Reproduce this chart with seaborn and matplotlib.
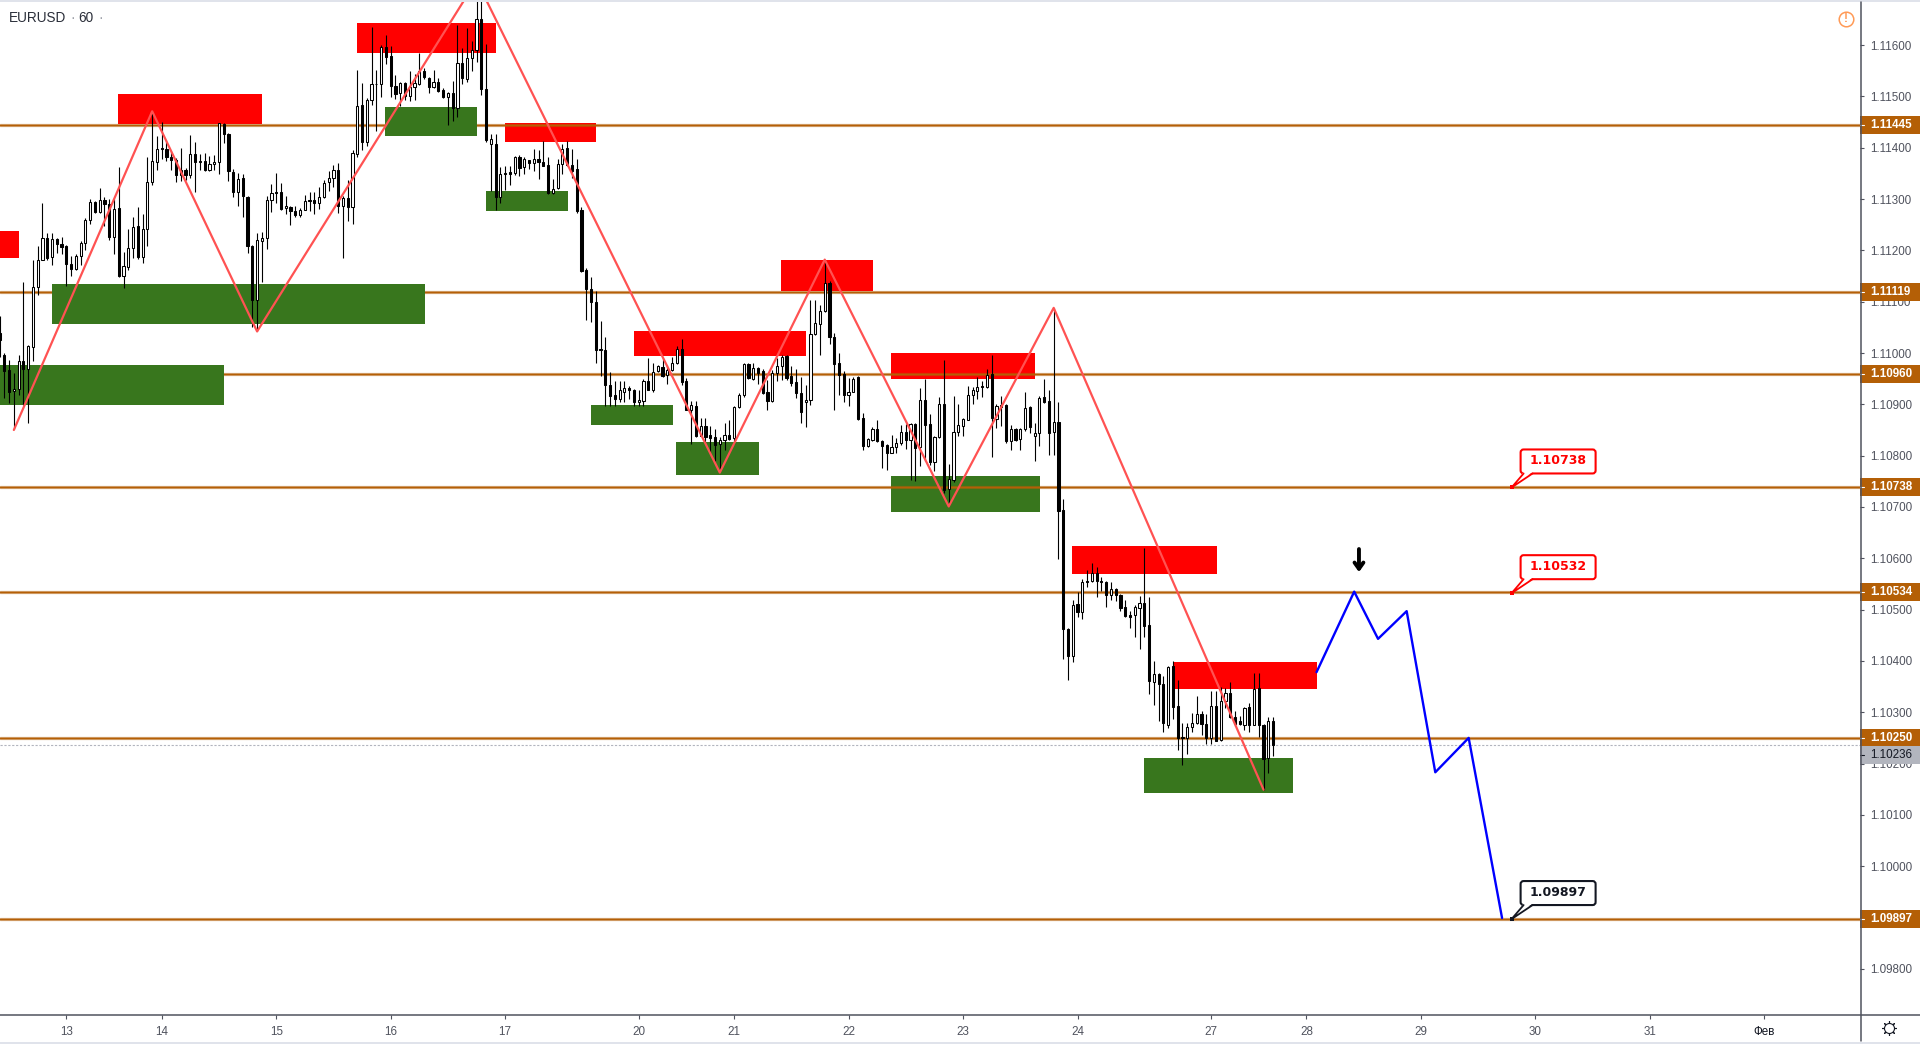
# EURUSD 60 min chart with zones, swings and projected path
import numpy as np
import matplotlib
matplotlib.use('Agg')
import matplotlib.pyplot as plt
import seaborn as sns
from matplotlib.lines import Line2D
from matplotlib.patches import FancyBboxPatch, FancyArrowPatch, Polygon, Rectangle
from matplotlib.transforms import IdentityTransform

# -----------------------------
# Data (prices in 1e-5 units, x in hourly candle numbers)
# -----------------------------
opens = [
    111039,110997,110966,110926,110930,110984,110969,111012,111129,111181,
    111224,111187,111222,111213,111209,111174,111164,111190,111214,111260,
    111294,111274,111298,111291,111227,111283,111151,111167,111205,111247,
    111188,111242,111333,111372,111400,111398,111382,111377,111346,111357,
    111346,111387,111374,111374,111356,111368,111372,111447,111427,111353,
    111313,111342,111304,111209,111103,111218,111224,111298,111314,111314,
    111282,111285,111277,111268,111279,111298,111298,111292,111304,111333,
    111341,111357,111286,111302,111284,111387,111484,111411,111494,111525,
    111525,111597,111578,111521,111506,111526,111500,111518,111525,111550,
    111536,111518,111528,111512,111499,111507,111477,111565,111534,111575,
    111590,111651,111515,111408,111407,111304,111350,111353,111351,111381,
    111363,111377,111371,111379,111373,111366,111311,111322,111368,111400,
    111366,111358,111278,111161,111125,111099,111008,111006,110938,110918,
    110911,110925,110932,110928,110904,110907,110946,110928,110964,110973,
    110958,110966,110980,111008,110946,110889,110897,110839,110858,110841,
    110837,110823,110830,110841,110834,110895,110919,110979,110950,110971,
    110965,110924,110906,110961,110974,110995,110956,110943,110922,110904,
    110908,111038,111056,111082,111137,111032,110980,110960,110918,110924,
    110953,110873,110818,110831,110852,110828,110821,110806,110816,110824,
    110846,110830,110861,110817,110909,110861,110788,110837,110900,110735,
    110753,110846,110857,110870,110918,110926,110935,110933,110960,110872,
    110898,110898,110828,110852,110833,110851,110895,110838,110844,110915,
    110906,110846,110866,110694,110462,110410,110511,110495,110556,110555,
    110571,110556,110553,110528,110540,110529,110505,110490,110489,110504,
    110512,110470,110358,110375,110356,110276,110390,110312,110251,110250,
    110272,110280,110297,110277,110249,110312,110245,110321,110337,110290,
    110283,110276,110310,110276,110347,110275,110210,110282]
highs = [
    111073,111000,110987,110962,110997,111138,111016,111182,111208,111292,
    111234,111234,111224,111226,111211,111189,111192,111218,111263,111301,
    111297,111322,111304,111301,111301,111363,111197,111242,111265,111285,
    111270,111382,111471,111422,111450,111416,111393,111380,111400,111361,
    111424,111411,111387,111389,111383,111385,111448,111448,111429,111359,
    111351,111348,111305,111211,111234,111235,111305,111330,111351,111332,
    111305,111286,111286,111283,111307,111313,111314,111323,111338,111354,
    111367,111370,111305,111338,111396,111552,111526,111496,111636,111551,
    111601,111619,111599,111542,111528,111528,111549,111543,111584,111556,
    111538,111552,111536,111517,111508,111530,111639,111595,111634,111608,
    111726,111700,111603,111426,111426,111363,111364,111364,111384,111385,
    111382,111377,111397,111395,111413,111381,111340,111379,111407,111413,
    111398,111379,111285,111166,111148,111121,111063,111031,110963,110945,
    110945,110946,110935,110930,110928,110949,110990,110980,110977,110990,
    110977,110993,111014,111027,110951,110907,110906,110873,110873,110857,
    110852,110837,110863,110870,110897,110923,110980,110980,110980,110972,
    110969,110948,110967,110990,110997,110997,110974,110969,110953,110938,
    111103,111103,111093,111182,111141,111039,111000,110965,110952,110954,
    110955,110883,110834,110856,110870,110830,110823,110841,110834,110859,
    110861,110863,110863,110931,110950,110882,110839,110914,110986,110783,
    110916,110900,110874,110935,110934,110954,110945,110969,110997,110900,
    110916,110900,110859,110854,110854,110924,110896,110864,110916,110950,
    110928,111088,110905,110716,110464,110519,110535,110559,110577,110590,
    110583,110563,110555,110553,110542,110531,110519,110498,110508,110527,
    110620,110524,110399,110376,110370,110390,110400,110363,110280,110280,
    110298,110332,110303,110297,110342,110342,110349,110347,110359,110303,
    110292,110310,110318,110376,110376,110277,110291,110290]
lows = [
    110993,110912,110903,110851,110919,110899,110863,110984,111114,111181,
    111182,111172,111194,111192,111130,111151,111161,111172,111200,111252,
    111272,111273,111248,111221,111192,111148,111126,111162,111185,111184,
    111175,111209,111327,111356,111379,111375,111357,111333,111336,111338,
    111341,111313,111356,111354,111355,111357,111348,111409,111335,111304,
    111286,111265,111195,111051,111042,111138,111203,111274,111292,111279,
    111271,111249,111266,111265,111278,111276,111270,111281,111302,111316,
    111324,111273,111185,111257,111252,111382,111396,111403,111484,111432,
    111499,111564,111499,111495,111481,111494,111491,111494,111523,111533,
    111507,111517,111508,111497,111445,111452,111460,111525,111528,111549,
    111567,111502,111411,111315,111279,111292,111317,111327,111347,111345,
    111348,111358,111355,111340,111364,111309,111309,111319,111348,111364,
    111342,111273,111157,111064,111060,110980,110956,110897,110897,110897,
    110904,110904,110911,110897,110897,110897,110927,110925,110963,110953,
    110940,110964,110979,110938,110888,110823,110837,110839,110826,110805,
    110789,110772,110811,110831,110823,110893,110915,110949,110948,110940,
    110921,110888,110904,110945,110948,110948,110935,110912,110863,110855,
    110899,111036,110997,111080,111017,110889,110919,110904,110896,110924,
    110870,110811,110816,110828,110826,110776,110772,110805,110805,110820,
    110812,110753,110750,110779,110789,110781,110771,110835,110727,110701,
    110748,110839,110839,110869,110900,110911,110914,110932,110798,110853,
    110857,110824,110811,110828,110811,110849,110844,110789,110818,110903,
    110801,110801,110598,110403,110362,110397,110485,110481,110545,110554,
    110524,110537,110506,110518,110516,110498,110486,110465,110447,110424,
    110446,110336,110314,110282,110262,110270,110287,110226,110198,110219,
    110262,110278,110256,110238,110238,110243,110244,110308,110288,110274,
    110275,110265,110262,110275,110252,110148,110182,110215]
closes = [
    111026,110964,110925,110930,110984,110969,111013,111129,111181,111224,
    111185,111222,111213,111206,111173,111164,111190,111214,111260,111294,
    111274,111298,111291,111227,111281,111151,111169,111205,111246,111188,
    111242,111333,111374,111398,111397,111382,111376,111346,111357,111346,
    111388,111372,111372,111356,111369,111372,111448,111426,111354,111313,
    111340,111305,111208,111103,111220,111224,111298,111312,111311,111281,
    111287,111277,111268,111279,111296,111296,111292,111304,111331,111341,
    111357,111286,111302,111284,111390,111482,111411,111494,111525,111524,
    111597,111577,111520,111504,111526,111500,111518,111526,111549,111538,
    111519,111528,111510,111498,111506,111477,111565,111536,111575,111590,
    111651,111515,111416,111417,111304,111349,111349,111349,111381,111361,
    111379,111370,111379,111372,111364,111311,111320,111369,111398,111366,
    111355,111277,111159,111125,111099,111005,111005,110937,110917,110911,
    110927,110932,110927,110904,110909,110946,110928,110963,110974,110956,
    110967,110980,111008,110943,110889,110899,110839,110858,110837,110835,
    110821,110830,110840,110833,110895,110919,110979,110951,110971,110962,
    110923,110907,110961,110975,110993,110951,110941,110922,110886,110909,
    111037,111058,111082,111137,111031,110978,110958,110918,110924,110950,
    110872,110818,110832,110852,110828,110819,110806,110817,110824,110846,
    110830,110861,110815,110909,110859,110787,110837,110900,110734,110755,
    110846,110859,110872,110919,110927,110934,110933,110957,110873,110896,
    110894,110828,110852,110831,110852,110893,110855,110844,110913,110904,
    110844,110866,110693,110462,110410,110509,110496,110553,110553,110571,
    110555,110553,110528,110540,110528,110504,110488,110486,110505,110512,
    110469,110360,110374,110356,110279,110389,110311,110249,110249,110272,
    110280,110297,110278,110249,110312,110244,110322,110337,110290,110277,
    110277,110308,110276,110345,110276,110208,110282,110236]

# horizontal levels and current price
levels = [111445, 111119, 110960, 110738, 110534, 110250, 109897]
last_price = 110236

# supply zones
red_left = [0, 24.8, 74.9, 106, 133, 163.8, 186.9, 224.8, 246]
red_right = [4.1, 55, 104.1, 125, 169.1, 183.1, 217.1, 255.2, 276.2]
red_top = [111237, 111504, 111644, 111449, 111042, 111182, 111001, 110623, 110397]
red_bottom = [111185, 111447, 111584, 111412, 110995, 111120, 110950, 110570, 110346]

# demand zones, the first three sit on top of the levels
green_left = [0, 11, 80.8, 102, 124, 141.8, 186.9, 239.9]
green_right = [47.1, 89.2, 100.1, 119.2, 141.2, 159.2, 218.1, 271.2]
green_top = [110976, 111135, 111479, 111315, 110898, 110826, 110761, 110210]
green_bottom = [110898, 111057, 111422, 111276, 110859, 110763, 110691, 110143]

# swing line
zig_x = [3, 32, 54, 100, 151, 173, 199, 221, 265]
zig_y = [110850, 111471, 111042, 111726, 110767, 111182, 110701, 111088, 110149]

# projected path
path_x = [276.1, 284, 289, 295, 301, 308, 315]
path_y = [110378, 110535, 110443, 110497, 110183, 110250, 109899]

# callouts
note_x = 317
note_price = [110738, 110532, 109897]
note_text = ['1.10738', '1.10532', '1.09897']
note_color = ['#ff0000', '#ff0000', '#131722']

# price and date axis
price_ticks = [109800 + 100 * n for n in range(19)]
date_pos = [14, 34, 58, 82, 106, 134, 154, 178, 202, 226, 254, 274, 298, 322, 346, 370]
date_labels = ['13', '14', '15', '16', '17', '20', '21', '22', '23', '24', '27', '28', '29', '30', '31', 'Фев']

# -----------------------------
# Figure setup
# -----------------------------
sns.set_theme(style='white')
plt.rcParams['font.family'] = ['Liberation Sans', 'DejaVu Sans']

W, H = 1920, 1044
AXIS_COLOR = '#50535e'
LEVEL_COLOR = '#b45f06'
PX_PRICE = 1.949e-5  # price per pixel

fig = plt.figure(figsize=(W / 100, H / 100), dpi=100, facecolor='white')
ax = fig.add_axes([0, (H - 1014.5) / H, 1860 / W, (1014.5 - 2) / H])
ax.set_facecolor('white')

def fx(px):
    return px / W

def fy(py):
    return 1 - py / H

o = np.array(opens) / 1e5
h = np.array(highs) / 1e5
l = np.array(lows) / 1e5
c = np.array(closes) / 1e5
idx = np.arange(len(o))

# -----------------------------
# Zones and levels
# -----------------------------
rl, rr = np.array(red_left), np.array(red_right)
rt, rb = np.array(red_top) / 1e5, np.array(red_bottom) / 1e5
ax.bar(rl, rt - rb, rr - rl, bottom=rb, align='edge', color='#ff0000', linewidth=0, zorder=1.5)

gl, gr = np.array(green_left), np.array(green_right)
gt, gb = np.array(green_top) / 1e5, np.array(green_bottom) / 1e5
ax.bar(gl[:3], (gt - gb)[:3], (gr - gl)[:3], bottom=gb[:3], align='edge', color='#38761d', linewidth=0, zorder=2.5)
ax.bar(gl[3:], (gt - gb)[3:], (gr - gl)[3:], bottom=gb[3:], align='edge', color='#38761d', linewidth=0, zorder=1.5)

for lev in levels:
    ax.axhline(lev / 1e5, color=LEVEL_COLOR, alpha=0.55, lw=2.3, zorder=2)
    ax.axhline(lev / 1e5, color=LEVEL_COLOR, lw=1.0, zorder=2.1)
ax.axhline(last_price / 1e5, color='#b2b5be', lw=0.8, dashes=(2, 1.5), zorder=1.8)

# -----------------------------
# Candles
# -----------------------------
ax.vlines(idx, l, h, colors='black', lw=0.8, zorder=3)
up = c >= o
ax.bar(idx[up], (c - o)[up], 0.46, bottom=o[up], facecolor='white', edgecolor='black', linewidth=0.75, zorder=3.1)
ax.bar(idx[~up], (o - c)[~up], 0.46, bottom=c[~up], facecolor='black', edgecolor='black', linewidth=0.75, zorder=3.1)

# -----------------------------
# Swing line and projected path
# -----------------------------
sns.lineplot(x=zig_x, y=np.array(zig_y) / 1e5, sort=False, estimator=None, color='#ff5252', linewidth=1.6, ax=ax, zorder=4)
sns.lineplot(x=path_x, y=np.array(path_y) / 1e5, sort=False, estimator=None, color='#0000ff', linewidth=1.7, ax=ax, zorder=4)

ax.add_patch(FancyArrowPatch((285, 1.10618), (285, 1.10573), arrowstyle='->,head_length=4.5,head_width=3.2',
                             color='black', lw=2.8, shrinkA=0, shrinkB=0, mutation_scale=1, zorder=5))

# -----------------------------
# Axes
# -----------------------------
ax.set_xlim(0.0985, 390.04)
ax.set_ylim(1.09711, 1.11684)
ax.yaxis.tick_right()
ax.set_yticks(np.array(price_ticks) / 1e5)
ax.set_yticklabels([f'{t / 1e5:.5f}' for t in price_ticks], fontsize=8.4, color=AXIS_COLOR)
ax.set_xticks(date_pos)
ax.set_xticklabels(date_labels, fontsize=8.4, color=AXIS_COLOR)
ax.get_xticklabels()[-1].set_color('#131722')
ax.tick_params(axis='y', length=3, width=0.8, color=AXIS_COLOR, pad=4.2, right=True)
ax.tick_params(axis='x', length=3, width=0.8, color=AXIS_COLOR, pad=5.5, bottom=True)
ax.set_xlabel('')
ax.set_ylabel('')
for side in ['top', 'left', 'right', 'bottom']:
    ax.spines[side].set_visible(False)

fig.add_artist(Line2D([0, 1], [fy(1014.5)] * 2, color=AXIS_COLOR, lw=1.1))
fig.add_artist(Line2D([fx(1860.5)] * 2, [fy(2), fy(1041)], color=AXIS_COLOR, lw=1.1))
fig.add_artist(Rectangle((0, fy(2)), 1, 2 / H, color='#e0e3eb', lw=0))
fig.add_artist(Rectangle((0, 0), 1, 2.5 / H, color='#e0e3eb', lw=0))

# price tags on the axis
yax = ax.get_yaxis_transform()
tag_w = 60 / 1860
tag_h = 18 * PX_PRICE
for lev in levels:
    p = lev / 1e5
    ax.add_patch(Rectangle((1.0, p - tag_h / 2), tag_w, tag_h, transform=yax, clip_on=False, color=LEVEL_COLOR, lw=0, zorder=6))
    ax.add_line(Line2D([1.0, 1.0022], [p, p], transform=yax, clip_on=False, color='white', lw=0.8, zorder=6.1))
    ax.text(1.0054, p, f'{p:.5f}', transform=yax, clip_on=False, color='white', fontsize=8.4, fontweight='bold',
            va='center', ha='left', zorder=6.2)

tag_p = last_price / 1e5 - 10.4 * PX_PRICE
ax.add_patch(Rectangle((1.0, tag_p - tag_h / 2), tag_w, tag_h, transform=yax, clip_on=False, color='#b2b5be', lw=0, zorder=6))
ax.add_line(Line2D([1.0, 1.0022], [tag_p, tag_p], transform=yax, clip_on=False, color='#131722', lw=0.8, zorder=6.1))
ax.text(1.0054, tag_p, f'{last_price / 1e5:.5f}', transform=yax, clip_on=False, color='#131722', fontsize=8.4,
        va='center', ha='left', zorder=6.2)

# -----------------------------
# Callouts, sized in screen pixels from their anchor
# -----------------------------
ident = IdentityTransform()
for price, txt, col in zip(note_price, note_text, note_color):
    ax0, ay0 = ax.transData.transform((note_x, price / 1e5))
    ax.add_patch(FancyBboxPatch((ax0 + 9, ay0 + 14), 75, 24, boxstyle='round,pad=0,rounding_size=3', transform=ident,
                                facecolor='white', edgecolor=col, lw=1.5, clip_on=False, zorder=7))
    ax.add_patch(Polygon([(ax0 + 12, ay0 + 15.5), (ax0 + 1, ay0 + 1), (ax0 + 21, ay0 + 15.5)], closed=True, transform=ident,
                         facecolor='white', edgecolor='none', clip_on=False, zorder=7.1))
    ax.add_line(Line2D([ax0 + 12, ax0, ax0 + 21], [ay0 + 14, ay0, ay0 + 14], transform=ident, color=col, lw=1.3,
                       clip_on=False, zorder=7.2))
    ax.add_patch(Rectangle((ax0 - 1.5, ay0 - 1.5), 3.5, 3.5, transform=ident, color=col, lw=0, zorder=7.3))
    ax.text(ax0 + 46.5, ay0 + 26.5, txt, transform=ident, color=col, fontsize=9, fontweight='bold', family='DejaVu Sans',
            ha='center', va='center', zorder=7.4)

# -----------------------------
# Header and icons
# -----------------------------
fig.text(fx(9), fy(18), 'EURUSD', fontsize=9.8, color='#2a2e39', va='center')
fig.text(fx(70), fy(18), '·', fontsize=9.8, color='#9598a1', va='center')
fig.text(fx(78), fy(18), '60', fontsize=9.8, color='#2a2e39', va='center')
fig.text(fx(98), fy(18), '·', fontsize=9.8, color='#9598a1', va='center')

fig.add_artist(Line2D([fx(1845.7)], [fy(18.5)], marker='o', ms=10.5, mfc='none', mec='#ff9a56', mew=1.1, ls=''))
fig.text(fx(1845.7), fy(18.5), '!', fontsize=8.5, fontweight='bold', color='#ff9a56', ha='center', va='center')

fig.add_artist(Line2D([fx(1889)], [fy(1028)], marker=(8, 2, 0), ms=10.5, mec='#131722', mew=0.8, ls=''))
fig.add_artist(Line2D([fx(1889)], [fy(1028)], marker='o', ms=7.2, mfc='white', mec='#131722', mew=0.8, ls=''))

fig.savefig('out.png', dpi=100)
